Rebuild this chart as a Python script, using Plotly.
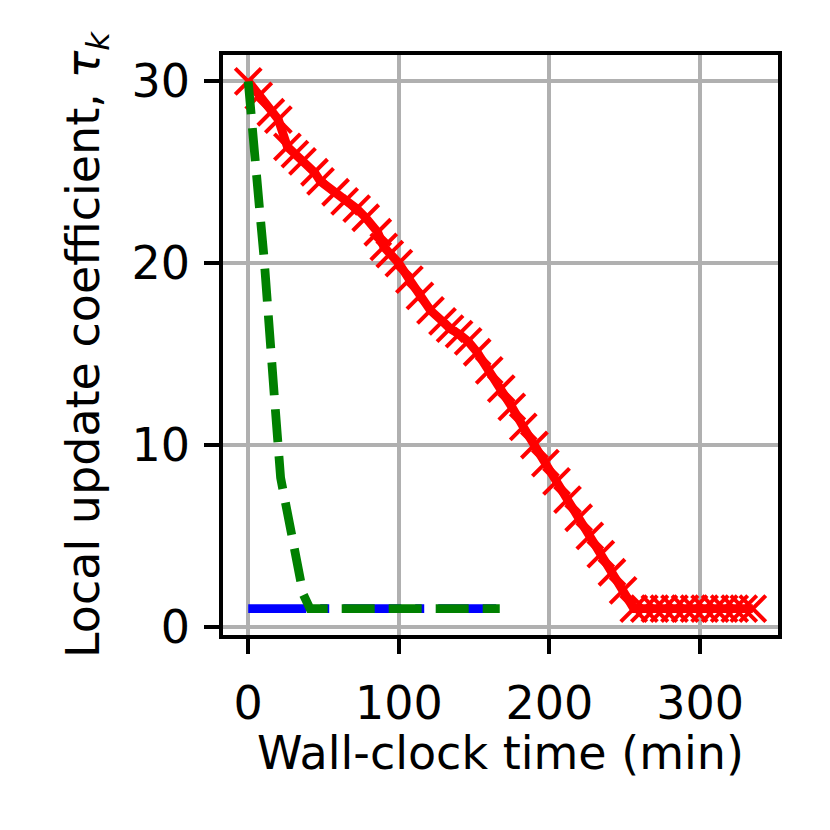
import plotly.graph_objects as go

# red: adaptive tau (with markers)
red_t = [0, 7, 15, 20, 26, 31, 36, 44, 48, 58, 64, 72, 78, 86, 90, 94, 100,
         107, 114, 121, 129, 134, 140, 146, 152, 160, 168, 175,
         182.6, 190, 197.3, 204.7, 212, 219.4, 226.8, 234.1, 241.5, 248.9, 256,
         263, 270, 276, 283, 290, 296, 303, 310, 316, 323, 329, 335]
red_tau = [30, 29.2, 28.3, 27.9, 26.4, 26.0, 25.6, 25.0, 24.5, 23.9, 23.4, 23.0, 22.5, 21.7, 20.9, 20.5, 20.0,
           19.1, 18.2, 17.4, 16.8, 16.4, 16.1, 15.7, 15.1, 14.1, 13.1, 12.1,
           11, 10, 9, 8, 7, 6, 5, 4, 3, 2, 1,
           1, 1, 1, 1, 1, 1, 1, 1, 1, 1, 1, 1]

# blue: fixed tau = 1
blue_t = [0, 167]
blue_tau = [1, 1]

# green: fast decay
green_t = [0, 2.5, 4.5, 7.5, 10.5, 14.3, 17.5, 21.5, 26, 29.5, 33, 36.5, 41, 167]
green_tau = [30, 28, 25.5, 23, 20.3, 16.7, 12.5, 8.2, 6.3, 5.0, 3.2, 1.8, 1, 1]

xticks = [0, 100, 200, 300]
yticks = [0, 10, 20, 30]

fig = go.Figure()
fig.add_trace(go.Scatter(x=red_t, y=red_tau, mode="lines+markers",
                         line=dict(color="red", width=8.8),
                         marker=dict(symbol="x-thin", size=26, color="red",
                                     line=dict(color="red", width=4))))
fig.add_trace(go.Scatter(x=blue_t, y=blue_tau, mode="lines",
                         line=dict(color="blue", width=8.8, dash="58px,14px,9px,14px")))
fig.add_trace(go.Scatter(x=green_t, y=green_tau, mode="lines",
                         line=dict(color="green", width=8.8, dash="33px,14px")))

axis_common = dict(showgrid=True, gridcolor="#b0b0b0", gridwidth=3.5,
                   ticks="outside", ticklen=15, tickwidth=3.5, tickcolor="black",
                   showline=True, linecolor="black", linewidth=3.5, mirror=True,
                   zeroline=False, automargin=False,
                   tickfont=dict(size=46, color="black"))

fig.update_layout(
    width=830, height=830,
    margin=dict(l=215, r=60, t=47, b=203),
    plot_bgcolor="white", paper_bgcolor="white",
    font=dict(family="DejaVu Sans", size=46, color="black"),
    showlegend=False,
    xaxis=dict(range=[-16.75, 351.75], tickvals=xticks, ticklabelstandoff=10, **axis_common),
    yaxis=dict(range=[-0.45, 31.45], tickvals=yticks, ticklabelstandoff=5, **axis_common),
)

# axis labels
fig.add_annotation(text="Wall-clock time (min)", xref="paper", yref="paper",
                   x=0.5, y=0, xanchor="center", yanchor="middle", yshift=-118,
                   showarrow=False, font=dict(size=46))
fig.add_annotation(text="Local update coefficient, <i>τ<sub>k</sub></i>", xref="paper", yref="paper",
                   x=0, y=0.5, xanchor="center", yanchor="middle", xshift=-137,
                   textangle=-90, showarrow=False, font=dict(size=46))

fig.write_html("out.html")
